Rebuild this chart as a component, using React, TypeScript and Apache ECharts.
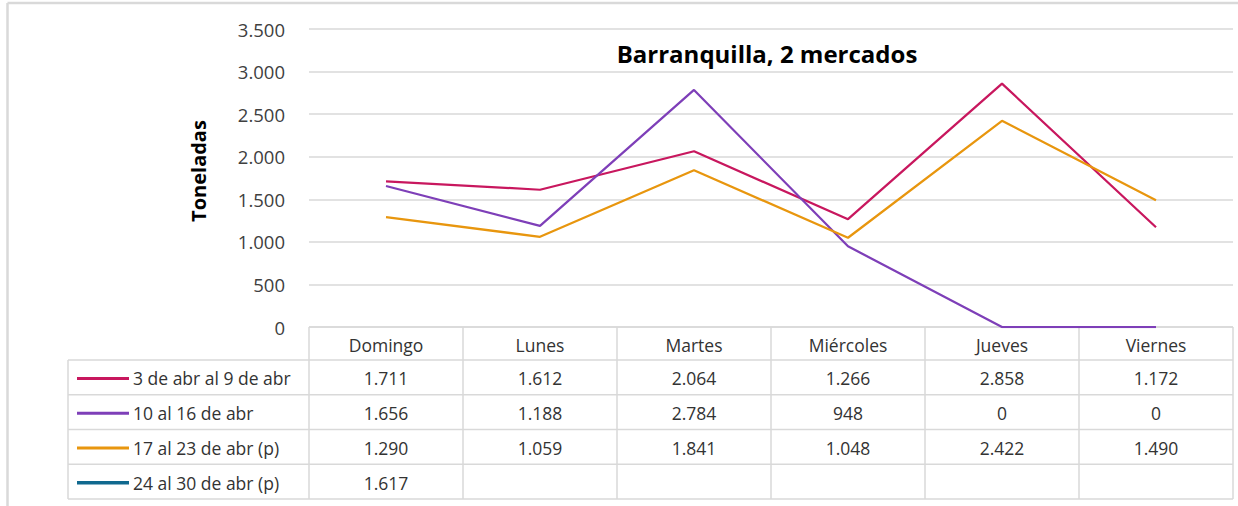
import React, { useEffect, useRef } from "react";
import * as echarts from "echarts";

const categories = ["Domingo", "Lunes", "Martes", "Miércoles", "Jueves", "Viernes"];
const seriesNames = ["3 de abr al 9 de abr", "10 al 16 de abr", "17 al 23 de abr (p)", "24 al 30 de abr (p)"];
const week1 = [1711, 1612, 2064, 1266, 2858, 1172];
const week2 = [1656, 1188, 2784, 948, 0, 0];
const week3 = [1290, 1059, 1841, 1048, 2422, 1490];
const week4: (number | null)[] = [1617, null, null, null, null, null];
const seriesData = [week1, week2, week3, week4];
const seriesColors = ["#C8175E", "#7E3FB8", "#E8960E", "#10698F"];
const yMin = 0;
const yMax = 3500;
const yStep = 500;
const titleText = "Barranquilla, 2 mercados";
const yAxisName = "Toneladas";

const fmt = (n: number | null) =>
  n === null || n === undefined ? "" : String(n).replace(/\B(?=(\d{3})+(?!\d))/g, ".");

const FONT = "'Open Sans', 'Noto Sans', sans-serif";
const W = 1238;
const H = 506;
const GRID_LEFT = 309;
const GRID_RIGHT = 5;
const GRID_TOP = 29;
const GRID_BOTTOM_Y = 327;
const TABLE_LEFT = 68;
const HEADER_BOTTOM = 360;
const ROW_H = 34.75;
const LINE_COLOR = "#d9d9d9";
const TABLE_FONT = `17.5px ${FONT}`;

export default function App() {
  const ref = useRef<HTMLDivElement>(null);
  useEffect(() => {
    if (!ref.current) return;
    const chart = echarts.init(ref.current, undefined, { renderer: "svg" });
    const option: any = {
      animation: false,
      backgroundColor: "#ffffff",
      textStyle: { fontFamily: FONT },
      grid: { left: GRID_LEFT, right: GRID_RIGHT, top: GRID_TOP, bottom: H - GRID_BOTTOM_Y, containLabel: false },
      xAxis: {
        type: "category",
        data: categories,
        boundaryGap: true,
        axisLine: { show: false },
        axisTick: { show: false },
        axisLabel: { show: false },
        splitLine: { show: false },
      },
      yAxis: {
        type: "value",
        min: yMin,
        max: yMax,
        interval: yStep,
        axisLine: { show: false },
        axisTick: { show: false },
        axisLabel: { formatter: (v: number) => fmt(v), fontSize: 18.5, color: "#404040", margin: 24, fontFamily: FONT },
        splitLine: { lineStyle: { color: LINE_COLOR, width: 1.5 } },
      },
      series: seriesData.map((d, i) => ({
        name: seriesNames[i],
        type: "line",
        data: d,
        showSymbol: false,
        symbol: "none",
        connectNulls: false,
        lineStyle: { color: seriesColors[i], width: 2.25 },
        itemStyle: { color: seriesColors[i] },
      })),
    };
    chart.setOption(option);

    const xs = categories.map((c) => chart.convertToPixel({ xAxisIndex: 0 }, c) as number);
    const colW = xs.length > 1 ? xs[1] - xs[0] : 154;
    const tableRight = W - GRID_RIGHT;
    const rowBottoms = seriesNames.map((_, i) => HEADER_BOTTOM + ROW_H * (i + 1));
    const tableBottom = rowBottoms[rowBottoms.length - 1];
    const g: any[] = [];
    const ln = (x1: number, y1: number, x2: number, y2: number) =>
      g.push({ type: "line", shape: { x1, y1, x2, y2 }, style: { stroke: LINE_COLOR, lineWidth: 1.5 }, silent: true });

    // outer border
    g.push({ type: "line", shape: { x1: 7.5, y1: 3, x2: 7.5, y2: H }, style: { stroke: "#d9d9d9", lineWidth: 2.5 } });
    g.push({ type: "line", shape: { x1: 7.5, y1: 3, x2: W, y2: 3 }, style: { stroke: "#d9d9d9", lineWidth: 2.5 } });

    // table horizontal lines
    ln(GRID_LEFT, GRID_BOTTOM_Y, tableRight, GRID_BOTTOM_Y);
    ln(TABLE_LEFT, HEADER_BOTTOM, tableRight, HEADER_BOTTOM);
    rowBottoms.forEach((y) => ln(TABLE_LEFT, y, tableRight, y));
    // vertical lines
    ln(TABLE_LEFT, HEADER_BOTTOM, TABLE_LEFT, tableBottom);
    xs.forEach((x) => ln(x - colW / 2, GRID_BOTTOM_Y, x - colW / 2, tableBottom));
    ln(tableRight, GRID_BOTTOM_Y, tableRight, tableBottom);

    // header labels
    categories.forEach((c, i) =>
      g.push({
        type: "text",
        x: xs[i],
        y: (GRID_BOTTOM_Y + HEADER_BOTTOM) / 2 + 1,
        style: { text: c, fill: "#333", font: TABLE_FONT, align: "center", verticalAlign: "middle" },
      })
    );
    // rows
    seriesNames.forEach((name, r) => {
      const yc = HEADER_BOTTOM + ROW_H * r + ROW_H / 2 + 1;
      g.push({
        type: "line",
        shape: { x1: 77, y1: yc, x2: 129, y2: yc },
        style: { stroke: seriesColors[r], lineWidth: r === 3 ? 3.5 : 3 },
      });
      g.push({
        type: "text",
        x: 133,
        y: yc,
        style: { text: name, fill: "#333", font: TABLE_FONT, align: "left", verticalAlign: "middle" },
      });
      seriesData[r].forEach((v, i) =>
        g.push({
          type: "text",
          x: xs[i],
          y: yc,
          style: { text: fmt(v), fill: "#333", font: TABLE_FONT, align: "center", verticalAlign: "middle" },
        })
      );
    });
    // y axis name
    g.push({
      type: "text",
      x: 198,
      y: 171,
      rotation: Math.PI / 2,
      style: { text: yAxisName, fill: "#000", font: `bold 20px ${FONT}`, align: "center", verticalAlign: "middle" },
    });
    // title
    g.push({
      type: "text",
      x: 767,
      y: 53,
      style: { text: titleText, fill: "#000", font: `bold 24px ${FONT}`, align: "center", verticalAlign: "middle" },
    });

    chart.setOption({ graphic: g });
    return () => chart.dispose();
  }, []);
  return <div ref={ref} style={{ position: "absolute", left: 0, top: 0, width: W, height: H }} />;
}
